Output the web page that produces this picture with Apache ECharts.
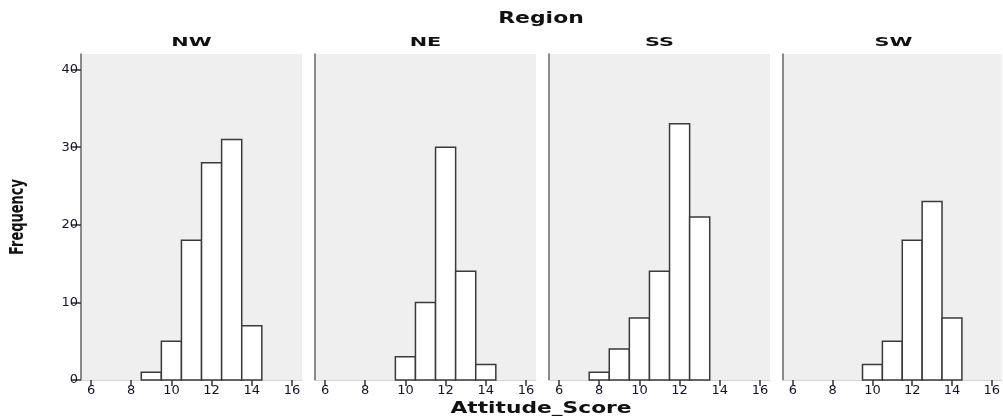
<!DOCTYPE html>
<html><head><meta charset="utf-8">
<script src="https://cdn.jsdelivr.net/npm/echarts@6/dist/echarts.min.js"></script>
<style>html,body{margin:0;padding:0;background:#fff}#c{width:1003px;height:416px}</style>
</head><body><div id="c"></div>
<script>
const regions = ['NW', 'NE', 'SS', 'SW'];
const scoreNW = [9, 10, 11, 12, 13, 14];
const freqNW  = [1, 5, 18, 28, 31, 7];
const scoreNE = [10, 11, 12, 13, 14];
const freqNE  = [3, 10, 30, 14, 2];
const scoreSS = [8, 9, 10, 11, 12, 13];
const freqSS  = [1, 4, 8, 14, 33, 21];
const scoreSW = [10, 11, 12, 13, 14];
const freqSW  = [2, 5, 18, 23, 8];
const xTicks = [6, 8, 10, 12, 14, 16];
const yTicks = [0, 10, 20, 30, 40];

const scores = [scoreNW, scoreNE, scoreSS, scoreSW];
const freqs = [freqNW, freqNE, freqSS, freqSW];

const chart = echarts.init(document.getElementById('c'), null, {renderer: 'canvas'});
const lefts = [81, 315, 549, 783];
const W = 221;
const grids = [], xAxes = [], yAxes = [], series = [], graphics = [];
const txt = '#141428';
regions.forEach((r, i) => {
  grids.push({left: lefts[i], width: W, top: 54, height: 326, show: true, backgroundColor: '#efefef', borderWidth: 0});
  xAxes.push({
    type: 'value', gridIndex: i, min: 5.5, max: 16.5,
    splitLine: {show: false},
    axisLine: {show: true, onZero: false, lineStyle: {color: '#d4d4d4', width: 1}},
    axisTick: {show: true, inside: false, customValues: xTicks, length: 6, lineStyle: {color: '#333', width: 1.5}},
    axisLabel: {customValues: xTicks, color: txt, fontFamily: 'DejaVu Sans', fontSize: 13, margin: 4}
  });
  yAxes.push({
    type: 'value', gridIndex: i, min: 0, max: 42,
    splitLine: {show: false},
    axisLine: {show: true, lineStyle: {color: '#666', width: 1.5}},
    axisTick: {show: i === 0, inside: false, customValues: yTicks, length: 10, lineStyle: {color: '#333', width: 1.5}},
    axisLabel: {show: i === 0, customValues: yTicks, color: txt, fontFamily: 'DejaVu Sans', fontSize: 13, margin: 3}
  });
  const data = scores[i].map((s, k) => [s, freqs[i][k]]);
  series.push({
    type: 'custom', xAxisIndex: i, yAxisIndex: i, data: data,
    renderItem: function (params, api) {
      const x = api.value(0), y = api.value(1);
      const p0 = api.coord([x - 0.5, y]);
      const p1 = api.coord([x + 0.5, 0]);
      return {type: 'rect', shape: {x: p0[0], y: p0[1], width: p1[0] - p0[0], height: p1[1] - p0[1]},
        style: {fill: '#fff', stroke: '#3a3a3a', lineWidth: 1.5}};
    }
  });
  graphics.push({type: 'text', x: lefts[i] + W / 2, y: 43, scaleX: 1.6, z: 100,
    style: {text: r, fontFamily: 'DejaVu Sans', fontWeight: 'bold', fontSize: 13, fill: '#111',
      textAlign: 'center', textVerticalAlign: 'middle'}});
});
graphics.push({type: 'text', x: 541, y: 19, scaleX: 1.46, z: 100,
  style: {text: 'Region', fontFamily: 'DejaVu Sans', fontWeight: 'bold', fontSize: 15, fill: '#111',
    textAlign: 'center', textVerticalAlign: 'middle'}});
graphics.push({type: 'text', x: 541, y: 409, scaleX: 1.45, z: 100,
  style: {text: 'Attitude_Score', fontFamily: 'DejaVu Sans', fontWeight: 'bold', fontSize: 15, fill: '#111',
    textAlign: 'center', textVerticalAlign: 'middle'}});
graphics.push({type: 'text', x: 18, y: 217, rotation: Math.PI / 2, scaleY: 1.45, z: 100,
  style: {text: 'Frequency', fontFamily: 'DejaVu Sans', fontWeight: 'bold', fontSize: 13, fill: '#111',
    textAlign: 'center', textVerticalAlign: 'middle'}});

chart.setOption({
  animation: false,
  grid: grids, xAxis: xAxes, yAxis: yAxes, series: series,
  graphic: graphics
});
</script></body></html>
